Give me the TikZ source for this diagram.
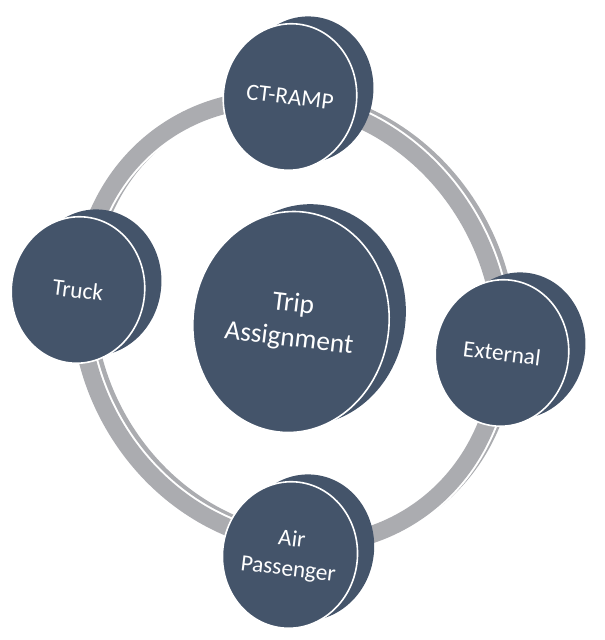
\documentclass[tikz,border=0pt]{standalone}
\usepackage{fontspec}
\setmainfont{Carlito}
\usetikzlibrary{shapes.geometric,shadows,backgrounds}

\definecolor{slate}{HTML}{44546A}
\definecolor{ringgray}{HTML}{ABACB0}

\begin{document}
\begin{tikzpicture}[
  x=0.75pt, y=0.75pt,
  disc/.style={ellipse, fill=slate, draw=white, line width=1.2pt, inner sep=0pt,
    minimum width=100pt, minimum height=110pt, rotate=-7, text=white, align=center,
    font=\fontsize{17.5}{22.5}\selectfont,
    general shadow={fill=slate, shadow xshift=12.5pt, shadow yshift=5.5pt}},
  hub/.style={disc, minimum width=147pt, minimum height=166pt,
    font=\fontsize{20.5}{26}\selectfont},
  band/.style={line width=13pt, ringgray},
  ring/.style={x radius=228, y radius=205}
]
\useasboundingbox (0,0) rectangle (605,640);

\node[disc] (ctramp) at (290,543) {CT-RAMP};
\node[disc] (truck) at (78,350) {Truck};
\node[disc] (external) at (502,287) {External};
\node[disc] (air) at (290,85) {Air\\Passenger};
\node[hub] (trip) at (291,318) {Trip\\Assignment};

% ring behind the discs
\begin{scope}[on background layer, rotate=120]
  \draw[band, transform canvas={shift={(6,3)}}] (trip.center) ellipse [ring];
  \draw[line width=16pt, white] (trip.center) ellipse [ring];
  \draw[band] (trip.center) ellipse [ring];
\end{scope}
\end{tikzpicture}
\end{document}
